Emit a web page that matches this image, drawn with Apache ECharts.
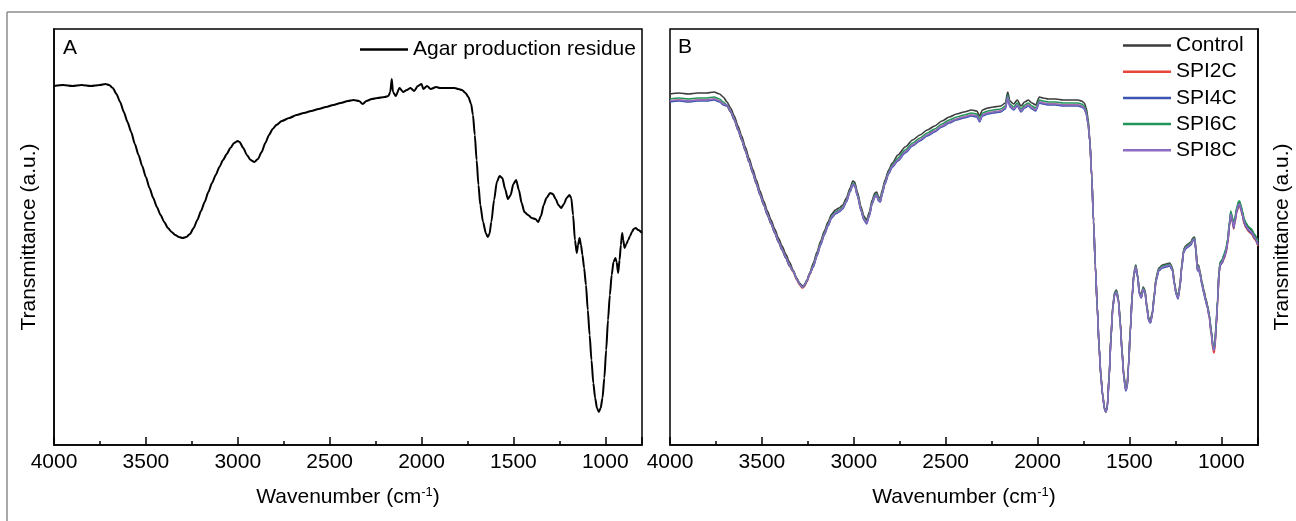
<!DOCTYPE html>
<html>
<head>
<meta charset="utf-8">
<script src="https://cdn.jsdelivr.net/npm/echarts@6/dist/echarts.min.js"></script>
<style>
  html, body { margin: 0; padding: 0; background: #fff; }
  #chart { width: 1296px; height: 521px; }
</style>
</head>
<body>
<div id="chart"></div>
<script>
// x tick labels (wavenumber, cm-1)
const tickLabels = [4000, 3500, 3000, 2500, 2000, 1500, 1000];

// panel A: agar production residue
const wavenumbersA = [
  4000,3950,3900,3850,3800,3750,3720,3700,3680,3660,
  3640,3620,3600,3580,3560,3540,3520,3500,3480,3460,
  3440,3420,3400,3380,3360,3340,3320,3300,3280,3260,
  3240,3220,3200,3180,3160,3140,3120,3100,3080,3060,
  3040,3020,3000,2990,2970,2950,2930,2910,2890,2870,
  2850,2830,2810,2790,2760,2720,2680,2640,2600,2560,
  2520,2480,2440,2400,2370,2340,2320,2300,2270,2240,
  2200,2180,2170,2162,2155,2140,2120,2100,2080,2060,
  2040,2020,2000,1990,1970,1950,1920,1900,1860,1820,
  1800,1780,1760,1745,1730,1720,1710,1700,1690,1680,
  1665,1650,1640,1630,1620,1605,1590,1575,1560,1545,
  1530,1515,1500,1485,1470,1455,1440,1420,1400,1380,
  1365,1350,1335,1320,1300,1285,1270,1255,1240,1225,
  1210,1195,1185,1175,1165,1155,1148,1140,1132,1124,
  1115,1105,1095,1085,1075,1065,1055,1045,1035,1025,
  1015,1005,995,985,975,965,955,945,938,930,
  922,915,908,902,895,885,875,865,855,845,
  835,820,800
];
const agarResidue = [
  359,360,359,360,359,360,361,360,357,351,
  343,333,323,313,301,290,279,268,257,247,
  238,230,223,217,213,210,208,207,208,211,
  217,225,234,243,253,262,270,278,285,291,
  297,302,304,303,297,290,285,283,286,293,
  302,310,316,320,324,327,330,332,334,336,
  338,340,342,344,345,344,341,344,346,347,
  348,349,353,366,353,349,357,353,355,357,
  354,359,361,356,359,356,358,357,357,357,
  356,355,352,348,341,330,310,285,260,240,
  223,212,208,211,223,245,263,269,267,256,
  246,250,261,265,255,242,233,230,227,226,
  223,229,240,247,252,251,246,240,237,241,
  247,250,247,230,205,192,200,207,200,190,
  177,160,135,110,85,62,47,37,33,37,
  47,67,95,125,150,170,183,187,183,172,
  185,200,212,205,197,201,205,209,213,216,
  217,215,212
];

// panel B: control and SPI films
const wavenumbersB = [
  4000,3950,3900,3850,3800,3760,3730,3710,3690,3670,
  3650,3630,3610,3590,3570,3550,3530,3510,3490,3470,
  3450,3430,3410,3390,3370,3350,3330,3310,3295,3280,
  3270,3255,3240,3220,3200,3180,3160,3140,3120,3100,
  3080,3060,3040,3020,3005,2995,2980,2960,2945,2930,
  2915,2900,2885,2875,2865,2855,2845,2830,2810,2790,
  2760,2720,2680,2640,2600,2560,2520,2480,2440,2400,
  2360,2330,2315,2300,2270,2240,2200,2175,2162,2150,
  2130,2110,2090,2070,2050,2030,2010,1990,1970,1940,
  1900,1860,1820,1780,1760,1745,1735,1725,1715,1705,
  1695,1685,1675,1665,1655,1645,1635,1628,1620,1610,
  1600,1590,1580,1570,1560,1550,1540,1530,1520,1512,
  1505,1495,1485,1475,1465,1455,1445,1435,1425,1415,
  1405,1395,1385,1375,1365,1355,1340,1320,1300,1280,
  1265,1255,1245,1235,1225,1215,1205,1195,1180,1165,
  1155,1145,1138,1130,1124,1115,1105,1095,1085,1075,
  1065,1055,1045,1040,1035,1028,1020,1012,1005,995,
  985,975,965,955,948,940,932,925,915,905,
  900,893,885,875,865,850,835,820,800
];
const control = [
  351,352,351,352,352,353,351,348,343,337,
  329,319,309,298,287,276,265,254,244,234,
  225,216,207,199,191,183,175,167,162,159,
  160,165,172,182,193,204,214,223,231,235,
  237,240,247,257,264,263,253,238,229,225,
  233,245,252,253,248,247,255,265,275,282,
  290,298,305,310,315,319,324,328,331,333,
  335,334,329,335,337,338,339,342,353,344,
  341,345,339,343,345,342,340,348,347,346,
  346,345,345,345,344,342,337,327,305,270,
  225,180,140,100,70,50,37,33,40,70,
  110,140,153,155,147,125,95,70,57,60,
  80,115,150,173,180,170,153,150,158,155,
  140,127,125,133,150,167,177,180,181,182,
  177,163,153,149,160,180,195,199,201,203,
  207,208,197,177,180,173,163,155,147,140,
  130,115,100,97,100,120,145,175,183,185,
  190,195,205,223,233,227,220,227,237,243,
  243,239,233,225,221,217,215,210,203
];
const spi2c = [
  344,345,344,345,345,346,344,341,339,333,
  325,315,305,294,283,272,261,250,240,230,
  221,212,203,195,187,179,173,165,160,157,
  158,163,170,179,190,201,211,220,228,232,
  234,237,244,254,261,260,250,235,226,222,
  230,242,249,250,245,244,252,262,272,279,
  285,293,300,305,310,314,319,323,326,328,
  330,329,324,330,332,333,334,337,348,339,
  336,340,334,338,340,337,335,343,342,341,
  341,340,340,340,339,337,332,322,303,268,
  223,178,138,98,68,49,36,33,38,68,
  108,138,151,153,145,123,93,68,55,58,
  78,113,148,171,178,168,151,148,156,153,
  138,125,123,131,148,165,175,178,179,180,
  175,161,151,147,158,178,193,197,199,201,
  205,206,195,175,178,171,161,153,145,138,
  127,111,95,92,95,116,141,172,180,182,
  186,191,201,219,229,223,216,223,233,239,
  239,235,229,221,217,213,211,206,199
];
const spi4c = [
  343,344,343,344,344,345,343,340,339,333,
  325,315,305,294,283,272,261,250,240,230,
  221,212,203,195,187,179,174,166,161,158,
  159,164,171,178,189,200,210,219,227,231,
  233,236,243,253,260,259,249,234,225,221,
  229,241,248,249,244,243,251,261,271,278,
  284,292,299,304,309,313,318,322,325,327,
  329,328,323,329,331,332,333,336,347,338,
  335,339,333,337,339,336,334,342,341,340,
  340,339,339,339,338,336,331,321,303,268,
  223,178,138,98,68,48,35,33,37,67,
  107,137,150,152,144,122,92,67,54,57,
  77,112,147,170,177,167,150,147,155,152,
  137,124,122,130,147,164,174,177,178,179,
  174,160,150,146,157,177,192,196,198,200,
  204,205,194,174,177,170,160,152,144,137,
  128,113,98,95,98,118,143,172,180,182,
  187,192,202,220,230,224,217,224,234,240,
  240,236,230,222,218,214,212,207,200
];
const spi6c = [
  346,347,346,347,347,348,346,343,340,334,
  326,316,306,295,284,273,262,251,241,231,
  222,213,204,196,188,180,174,166,161,158,
  159,164,171,180,191,202,212,221,229,233,
  235,238,245,255,262,261,251,236,227,223,
  231,243,250,251,246,245,253,263,273,280,
  287,295,302,307,312,316,321,325,328,330,
  332,331,326,332,334,335,336,339,350,341,
  338,342,336,340,342,339,337,345,344,343,
  343,342,342,342,341,339,334,324,304,269,
  224,179,139,99,69,49,36,33,39,69,
  109,139,152,154,146,124,94,69,56,59,
  79,114,149,172,179,169,152,149,157,154,
  139,126,124,132,149,166,176,179,180,181,
  176,162,152,148,159,179,194,198,200,202,
  206,207,196,176,179,172,162,154,146,139,
  130,115,100,97,100,120,145,175,183,185,
  191,196,206,224,234,228,221,228,238,244,
  244,240,234,226,222,218,216,211,204
];
const spi8c = [
  344,345,344,345,345,346,344,341,340,334,
  326,316,306,295,284,273,262,251,241,231,
  222,213,204,196,188,180,174,166,161,158,
  159,164,171,179,190,201,211,220,228,232,
  234,237,244,254,261,260,250,235,226,222,
  230,242,249,250,245,244,252,262,272,279,
  285,293,300,305,310,314,319,323,326,328,
  330,329,324,330,332,333,334,337,348,339,
  336,340,334,338,340,337,335,343,342,341,
  341,340,340,340,339,337,332,322,304,269,
  224,179,139,99,69,49,36,33,38,68,
  108,138,151,153,145,123,93,68,55,58,
  78,113,148,171,178,168,151,148,156,153,
  138,125,123,131,148,165,175,178,179,180,
  175,161,151,147,158,178,193,197,199,201,
  205,206,195,175,178,171,161,153,145,138,
  128,113,98,95,98,118,143,173,181,183,
  188,193,203,221,231,225,218,225,235,241,
  241,237,231,223,219,215,213,208,201
];

const seriesNamesB = ['Control', 'SPI2C', 'SPI4C', 'SPI6C', 'SPI8C'];
const seriesValuesB = [control, spi2c, spi4c, spi6c, spi8c];
const coloursB = ['#3b3b3b', '#e8453c', '#3b55b0', '#23955a', '#8b6cc2'];

const font = '"Liberation Sans", Arial, sans-serif';
const black = '#000';
const fs = 21;

const pair = (xs, ys) => xs.map((x, i) => [x, ys[i]]);

const mainX = (gridIndex) => ({
  gridIndex,
  type: 'value',
  min: 800,
  max: 4000,
  inverse: true,
  minInterval: 500,
  maxInterval: 500,
  axisLine: {show: true, onZero: false, lineStyle: {color: black, width: 1.5}},
  axisTick: {show: true, inside: true, length: 8, lineStyle: {color: black, width: 1.5}},
  axisLabel: {
    fontSize: fs, color: black, fontFamily: font, margin: 7,
    formatter: v => tickLabels.includes(v) ? String(v) : ''
  },
  splitLine: {show: false},
  name: 'Wavenumber (cm{sup|-1})',
  nameLocation: 'middle',
  nameGap: 41,
  nameTextStyle: {
    fontSize: fs, color: black, fontFamily: font,
    rich: {sup: {fontSize: 13, color: black, fontFamily: font, padding: [0, 0, 10, 0]}}
  }
});

const minorX = (gridIndex) => ({
  gridIndex,
  type: 'value',
  min: 800,
  max: 4000,
  inverse: true,
  minInterval: 250,
  maxInterval: 250,
  axisLine: {show: false, onZero: false},
  axisTick: {show: true, inside: true, length: 4, lineStyle: {color: black, width: 1.5}},
  axisLabel: {show: false},
  splitLine: {show: false}
});

const mainY = (gridIndex, position) => ({
  gridIndex,
  position,
  type: 'value',
  min: 0,
  max: 416,
  axisLine: {show: true, lineStyle: {color: black, width: 1.5}},
  axisTick: {show: false},
  axisLabel: {show: false},
  splitLine: {show: false},
  name: 'Transmittance (a.u.)',
  nameLocation: 'middle',
  nameGap: 14,
  nameTextStyle: {fontSize: fs, color: black, fontFamily: font}
});

const hiddenY = (gridIndex) => ({gridIndex, type: 'value', min: 0, max: 416, show: false});

const box = {top: 29, width: 588, height: 416};

const chart = echarts.init(document.getElementById('chart'));
chart.setOption({
  animation: false,
  backgroundColor: '#fff',
  textStyle: {fontFamily: font},
  grid: [
    {...box, left: 54, show: true, borderColor: black, borderWidth: 1.5},
    {...box, left: 670, show: true, borderColor: black, borderWidth: 1.5},
    {...box, left: 54},
    {...box, left: 670}
  ],
  xAxis: [mainX(0), mainX(1), minorX(2), minorX(3)],
  yAxis: [mainY(0, 'left'), mainY(1, 'right'), hiddenY(2), hiddenY(3)],
  legend: [
    {
      data: ['Agar production residue'],
      left: 360, top: 39, padding: 0,
      icon: 'rect',
      itemWidth: 48, itemHeight: 2.5,
      textStyle: {fontSize: fs, color: black, fontFamily: font, lineHeight: 21}
    },
    {
      data: seriesNamesB,
      orient: 'vertical',
      left: 1123, top: 35, padding: 0,
      icon: 'rect',
      itemWidth: 48, itemHeight: 2.5, itemGap: 5.2,
      textStyle: {fontSize: fs, color: black, fontFamily: font, lineHeight: 21}
    }
  ],
  graphic: [
    {type: 'line', shape: {x1: 7, y1: 12, x2: 1296, y2: 12}, style: {stroke: '#8c8c8c', lineWidth: 1.5}},
    {type: 'line', shape: {x1: 7, y1: 12, x2: 7, y2: 521}, style: {stroke: '#8c8c8c', lineWidth: 1.5}},
    {type: 'text', left: 63, top: 38, style: {text: 'A', fontSize: fs, fill: black, fontFamily: font}},
    {type: 'text', left: 678, top: 37, style: {text: 'B', fontSize: fs, fill: black, fontFamily: font}}
  ],
  series: [
    {
      name: 'Agar production residue',
      type: 'line',
      xAxisIndex: 0, yAxisIndex: 0,
      data: pair(wavenumbersA, agarResidue),
      showSymbol: false, symbol: 'none',
      smooth: 0.25, smoothMonotone: 'x',
      lineStyle: {color: black, width: 2},
      itemStyle: {color: black}
    },
    ...seriesNamesB.map((name, i) => ({
      name,
      type: 'line',
      xAxisIndex: 1, yAxisIndex: 1,
      data: pair(wavenumbersB, seriesValuesB[i]),
      showSymbol: false, symbol: 'none',
      smooth: 0.25, smoothMonotone: 'x',
      lineStyle: {color: coloursB[i], width: 1.6},
      itemStyle: {color: coloursB[i]}
    }))
  ]
});
</script>
</body>
</html>
